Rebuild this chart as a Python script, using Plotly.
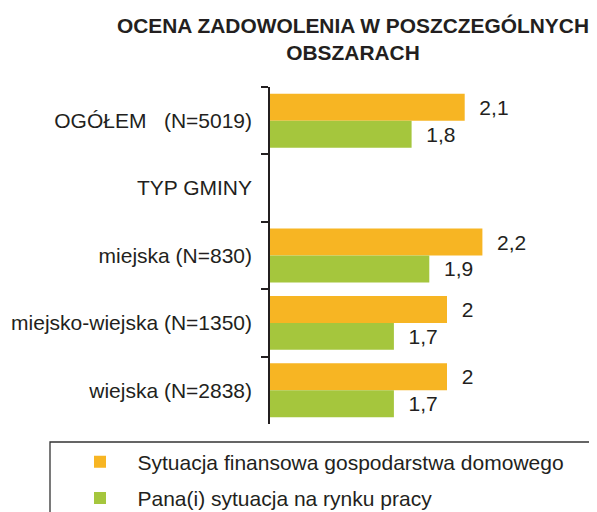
import plotly.graph_objects as go

categories = ["OGÓŁEM\u00a0\u00a0\u00a0(N=5019)", "TYP GMINY", "miejska (N=830)",
              "miejsko-wiejska (N=1350)", "wiejska (N=2838)"]
finanse = [2.1, None, 2.2, 2.0, 2.0]
praca = [1.8, None, 1.9, 1.7, 1.7]
series_names = ["Sytuacja finansowa gospodarstwa domowego",
                "Pana(i) sytuacja na rynku pracy"]
title_text = "OCENA ZADOWOLENIA W POSZCZEGÓLNYCH<br>OBSZARACH"

ORANGE = "#F7B523"
GREEN = "#A5C63D"
TXT = "#231F20"
FONT = "Liberation Sans, Arial, sans-serif"

OFF = 8  # page body margin
PAGE_W, PAGE_H = 597, 512
W, H = PAGE_W - OFF, PAGE_H - OFF

# plot area in page pixels
PX0, PX1 = 270, 597
PY0, PY1 = 87, 424
L, R = PX0 - OFF, W - (PX1 - OFF)
T, B = PY0 - OFF, H - (PY1 - OFF)
pw = PX1 - PX0
ph = PY1 - PY0
scale = 177.0  # px per unit
xmax = 1 + pw / scale


def px_x(p):
    return (p - PX0) / pw


def px_y(p):
    return (PY1 - p) / ph


def cx(p):
    return (p - OFF) / W


def cy(p):
    return 1 - (p - OFF) / H


def fmt(v):
    if v is None:
        return ""
    s = ("%g" % v).replace(".", ",")
    return "\u00a0\u00a0" + s


fig = go.Figure()
for name, vals, col in [(series_names[0], finanse, ORANGE),
                        (series_names[1], praca, GREEN)]:
    fig.add_trace(go.Bar(
        y=categories, x=vals, orientation="h",
        name="\u00a0\u00a0\u00a0" + name,
        marker=dict(color=col, line=dict(width=0)),
        text=[fmt(v) for v in vals], textposition="outside",
        textfont=dict(size=21, color=TXT, family=FONT),
        legendgroup=name,
    ))

fig.update_layout(
    width=W, height=H,
    margin=dict(l=L, r=R, t=T, b=B, pad=0, autoexpand=False),
    paper_bgcolor="white", plot_bgcolor="white",
    font=dict(family=FONT, size=21, color=TXT),
    barmode="group", bargap=0.2, bargroupgap=0,
    title=dict(text="<b>" + title_text + "</b>",
               font=dict(size=20.9, color=TXT, family=FONT),
               x=cx(353), xanchor="center", xref="container",
               y=cy(32.5), yanchor="top", yref="container"),
    xaxis=dict(range=[1, xmax], visible=False, showgrid=False, zeroline=False),
    yaxis=dict(autorange="reversed", showline=True, linecolor=TXT, linewidth=1.5,
               ticks="outside", ticklen=7, tickwidth=1.5, tickcolor=TXT,
               tickson="boundaries", showgrid=False, zeroline=False,
               ticklabelstandoff=12,
               tickfont=dict(size=21, color=TXT, family=FONT)),
    showlegend=True,
    legend=dict(x=cx(80), y=cy(441.5), xanchor="left", yanchor="top",
                xref="container", yref="container",
                traceorder="grouped", tracegroupgap=6,
                bgcolor="rgba(0,0,0,0)", borderwidth=0,
                font=dict(size=21, color=TXT, family=FONT)),
    shapes=[dict(type="rect", xref="paper", yref="paper",
                 x0=px_x(50), x1=px_x(620), y0=px_y(442), y1=px_y(540),
                 line=dict(color="#333333", width=1.3), fillcolor="rgba(0,0,0,0)",
                 layer="above")],
)

fig.write_html("out.html")
